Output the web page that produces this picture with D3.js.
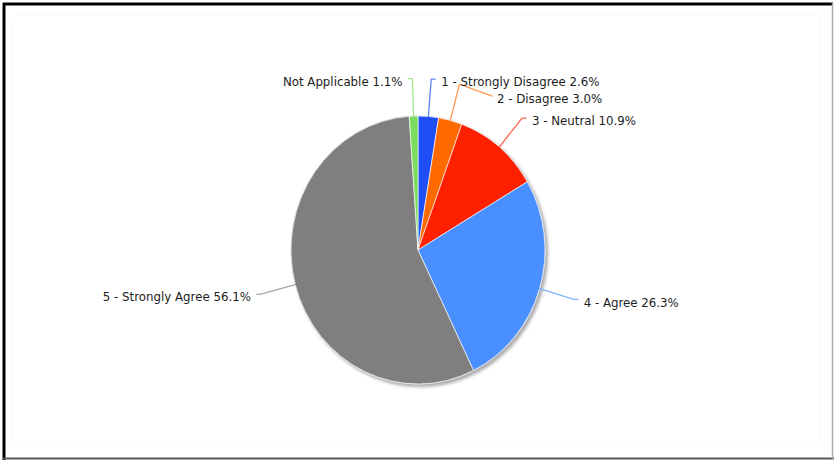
<!DOCTYPE html>
<html>
<head>
<meta charset="utf-8">
<script src="https://cdn.jsdelivr.net/npm/d3@7"></script>
<style>
  html, body { margin: 0; padding: 0; background: #fff; }
  svg { display: block; }
  text { font-family: "DejaVu Sans", sans-serif; font-size: 11.8px; fill: #1c1c1c; }
</style>
</head>
<body>
<svg id="chart" width="834" height="460"></svg>
<script>
// Survey responses, in drawing order (clockwise from 12 o'clock)
const categories = [
  "1 - Strongly Disagree",
  "2 - Disagree",
  "3 - Neutral",
  "4 - Agree",
  "5 - Strongly Agree",
  "Not Applicable"
];
const percents = [2.6, 3.0, 10.9, 26.3, 56.1, 1.1];
const sliceColors = ["#1f4ef7", "#ff6a00", "#ff2000", "#4a8fff", "#7f7f80", "#7ddc5f"];

const W = 834, H = 460;
const cx = 418, cy = 250;
const R = 127;          // horizontal radius
const sy = 1.055;       // vertical stretch of the pie
const elbowK = 1.28;    // leader line elbow, as a multiple of the radius
const minGap = 17;      // minimum vertical spacing between labels on a side

const svg = d3.select("#chart");

// frame
svg.append("rect")
  .attr("x", 13).attr("y", 15).attr("width", 808).attr("height", 431)
  .attr("rx", 4).attr("fill", "none").attr("stroke", "#f8f8f8");
svg.append("line").attr("x1", 3).attr("x2", 833).attr("y1", 4).attr("y2", 4)
  .attr("stroke", "#000").attr("stroke-width", 3);
svg.append("line").attr("x1", 4).attr("x2", 4).attr("y1", 3).attr("y2", 460)
  .attr("stroke", "#000").attr("stroke-width", 3);
svg.append("line").attr("x1", 3).attr("x2", 834).attr("y1", 458.5).attr("y2", 458.5)
  .attr("stroke", "#555").attr("stroke-width", 2);
svg.append("line").attr("x1", 832.5).attr("x2", 832.5).attr("y1", 3).attr("y2", 460)
  .attr("stroke", "#aaa").attr("stroke-width", 1.5);

// drop shadow for the pie
const defs = svg.append("defs");
const f = defs.append("filter").attr("id", "pieShadow")
  .attr("x", "-10%").attr("y", "-10%").attr("width", "130%").attr("height", "130%");
f.append("feDropShadow").attr("dx", 2.5).attr("dy", 2.5)
  .attr("stdDeviation", 1.6).attr("flood-color", "#666").attr("flood-opacity", 0.55);

const pie = d3.pie().sort(null).value(d => d)(percents);
const arc = d3.arc().innerRadius(0).outerRadius(R);

const pieG = svg.append("g")
  .attr("transform", `translate(${cx},${cy}) scale(1,${sy})`);

pieG.append("circle").attr("r", R).attr("fill", "#ddd")
  .attr("stroke", "#cfcfcf").attr("stroke-width", 1)
  .attr("filter", "url(#pieShadow)");

pieG.selectAll("path.slice")
  .data(pie)
  .join("path")
  .attr("class", "slice")
  .attr("d", arc)
  .attr("fill", (d, i) => sliceColors[i])
  .attr("stroke", "#fff")
  .attr("stroke-width", 0.8)
  .attr("stroke-opacity", 0.8);

// label layout
const pt = (a, k) => [cx + R * k * Math.sin(a), cy - R * sy * k * Math.cos(a)];
const labels = pie.map((d, i) => {
  const mid = (d.startAngle + d.endAngle) / 2;
  const side = Math.sin(mid) >= 0 ? 1 : -1;
  const edge = pt(mid, 1);
  const elbow = pt(mid, elbowK);
  return { i, side, edge, elbow, baseY: elbow[1] + 3, y: elbow[1] + 3 };
});

[1, -1].forEach(s => {
  const group = labels.filter(l => l.side === s).sort((a, b) => a.baseY - b.baseY);
  for (let j = 1; j < group.length; j++) {
    if (group[j].y < group[j - 1].y + minGap) group[j].y = group[j - 1].y + minGap;
  }
});

labels.forEach(l => {
  const dy = l.y - l.baseY;
  const end = dy > 0.5
    ? [l.elbow[0] + l.side * (4 + dy * 2.4), l.y - 3]
    : [l.elbow[0] + l.side * 4, l.elbow[1]];
  l.points = [l.edge, l.elbow, end];
  l.tx = end[0] + l.side * (dy > 0.5 ? 5 : 6);
});

const lineGen = d3.line().curve(d3.curveLinear);

svg.append("g").selectAll("path.leader")
  .data(labels)
  .join("path")
  .attr("class", "leader")
  .attr("d", l => lineGen(l.points))
  .attr("fill", "none")
  .attr("stroke", l => d3.interpolateRgb(sliceColors[l.i], "#fff")(0.3))
  .attr("stroke-width", 1.3)
  .attr("stroke-linejoin", "round")
  .attr("stroke-linecap", "round");

svg.append("g").selectAll("text.lbl")
  .data(labels)
  .join("text")
  .attr("class", "lbl")
  .attr("x", l => l.tx)
  .attr("y", l => l.y)
  .attr("dy", "0.35em")
  .attr("text-anchor", l => l.side > 0 ? "start" : "end")
  .text(l => `${categories[l.i]} ${percents[l.i].toFixed(1)}%`);
</script>
</body>
</html>
